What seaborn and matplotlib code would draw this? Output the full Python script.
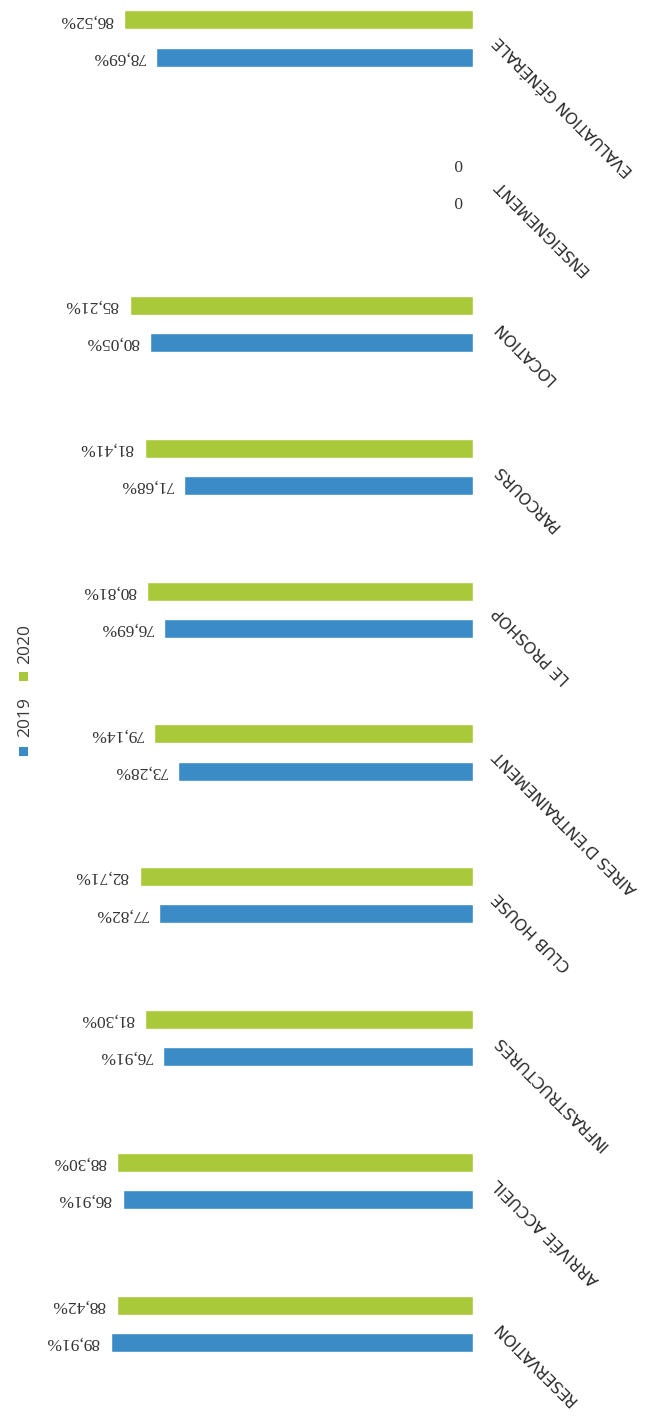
import matplotlib
matplotlib.use("Agg")
import matplotlib.pyplot as plt
import matplotlib.transforms as mtransforms
from matplotlib.patches import Rectangle
import seaborn as sns
import pandas as pd

# Satisfaction scores per service, 2019 vs 2020
categories = [
    "EVALUATION GÉNÉRALE",
    "ENSEIGNEMENT",
    "LOCATION",
    "PARCOURS",
    "LE PROSHOP",
    "AIRES D'ENTRAINEMENT",
    "CLUB HOUSE",
    "INFRASTRUCTURES",
    "ARRIVÉE ACCUEIL",
    "RESERVATION",
]
values_2019 = [78.69, 0, 80.05, 71.68, 76.69, 73.28, 77.82, 76.91, 86.91, 89.91]
values_2020 = [86.52, 0, 85.21, 81.41, 80.81, 79.14, 82.71, 81.30, 88.30, 88.42]
years = ["2019", "2020"]

BLUE = "#3b8bc6"
GREEN = "#a9c93b"
TEXT = "#333333"

df = pd.DataFrame({
    "categorie": categories * 2,
    "annee": [years[0]] * len(categories) + [years[1]] * len(categories),
    "valeur": values_2019 + values_2020,
})

sns.set_style("white")
plt.rcParams["font.family"] = ["DejaVu Sans"]

W, H = 669, 1427
fig = plt.figure(figsize=(W / 100, H / 100), dpi=100)
fig.patch.set_facecolor("white")

# axes: baseline (value 0) on the right, bars growing to the left
x_left_px, x_zero_px = 70, 473
ax = fig.add_axes([x_left_px / W, 0, (x_zero_px - x_left_px) / W, 1])

sns.barplot(
    data=df, x="valeur", y="categorie", hue="annee",
    order=categories, hue_order=["2020", "2019"],
    palette={"2019": BLUE, "2020": GREEN},
    orient="h", width=0.52, gap=0.49, saturation=1,
    legend=False, ax=ax,
)

ax.set_xlim(100, 0)
step = 142.8
first_center = 38.5
ax.set_ylim(9 + (H - (first_center + 9 * step)) / step, -first_center / step)
ax.set_axis_off()

# value labels, written upside down beside each bar end
for container in ax.containers:
    for bar in container:
        v = bar.get_width()
        yc = bar.get_y() + bar.get_height() / 2
        label = "0" if v == 0 else f"{v:.2f}".replace(".", ",") + "%"
        ax.annotate(
            label, xy=(v, yc), xytext=(-8, 0), textcoords="offset points",
            rotation=180, rotation_mode="anchor", ha="left", va="center",
            fontsize=12.5, family=["Liberation Serif", "DejaVu Serif"],
            color=TEXT, annotation_clip=False,
        )

# category labels on the right of the baseline, slanted
trans = mtransforms.blended_transform_factory(ax.transAxes, ax.transData)
x_lab = (496 - x_left_px) / (x_zero_px - x_left_px)
for i, cat in enumerate(categories):
    ax.text(
        x_lab, i, cat, transform=trans, rotation=135, rotation_mode="anchor",
        ha="right", va="center", fontsize=11.5, color="#2a2a2a", clip_on=False,
    )

# legend, running bottom to top on the left
def fx(px):
    return px / W

def fy(py):
    return (H - py) / H

sq = 9
for color, ysq, ytxt, name in [(BLUE, 751, 717, years[0]), (GREEN, 677, 644, years[1])]:
    fig.add_artist(Rectangle(
        (fx(23 - sq / 2), fy(ysq + sq / 2)), sq / W, sq / H,
        transform=fig.transFigure, facecolor=color, edgecolor="none",
    ))
    fig.text(
        fx(25), fy(ytxt), name, rotation=90, ha="center", va="center",
        fontsize=12.5, family=["Open Sans", "DejaVu Sans"], color="#3a3a3a",
    )

fig.savefig("out.png", dpi=100, facecolor="white")
